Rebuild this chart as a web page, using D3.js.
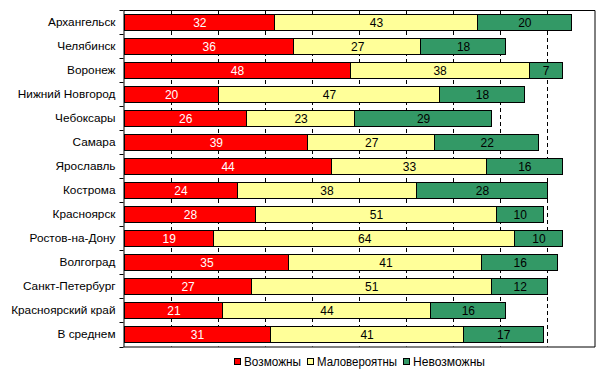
<!DOCTYPE html>
<html lang="ru">
    <head>
        <meta charset="utf-8">
        <title>Stacked bars</title>
        <script src="https://cdn.jsdelivr.net/npm/d3@7"></script>
        <style>
            body { margin: 0; background: #fff; }
            text { font-family: Arial, "Liberation Sans", sans-serif; }
        </style>
    </head>
    <body>
        <script>
            // data
            var cities = ["Архангельск", "Челябинск", "Воронеж", "Нижний Новгород", "Чебоксары",
                          "Самара", "Ярославль", "Кострома", "Красноярск", "Ростов-на-Дону",
                          "Волгоград", "Санкт-Петербург", "Красноярский край", "В среднем"];
            var possible = [32, 36, 48, 20, 26, 39, 44, 24, 28, 19, 35, 27, 21, 31];
            var unlikely = [43, 27, 38, 47, 23, 27, 33, 38, 51, 64, 41, 51, 44, 41];
            var impossible = [20, 18, 7, 18, 29, 22, 16, 28, 10, 10, 16, 12, 16, 17];
            var seriesNames = ["Возможны", "Маловероятны", "Невозможны"];
            var gridTicks = [10, 20, 30, 40, 50, 60, 70, 80, 90];

            var colors = ["#ff0000", "#ffff99", "#339966"];
            var textColors = ["#ffffff", "#000000", "#000000"];

            var w = 604, h = 376;
            // plot area edges (note: "top" is reserved on window)
            var pLeft = 123.5, pRight = 594.5, pTop = 10, pBottom = 346.5;

            var rows = cities.map(function(c, i) {
                return { city: c, possible: possible[i], unlikely: unlikely[i], impossible: impossible[i] };
            });
            var keys = ["possible", "unlikely", "impossible"];
            var stacked = d3.stack().keys(keys)(rows);

            var x = d3.scaleLinear().domain([0, 100]).range([pLeft, pRight]);
            var y = d3.scaleBand().domain(cities).range([pTop, pBottom])
                        .paddingInner(1/3).paddingOuter(1/6);

            var svg = d3.select("body").append("svg")
                        .attr("width", w)
                        .attr("height", h);

            // dashed gridlines
            svg.selectAll("line.grid")
                .data(gridTicks)
                .enter()
                .append("line")
                .attr("x1", function(d) { return Math.round(x(d)) + 0.5; })
                .attr("x2", function(d) { return Math.round(x(d)) + 0.5; })
                .attr("y1", pTop)
                .attr("y2", pBottom)
                .attr("stroke", "#000")
                .attr("stroke-dasharray", "4,3");

            // plot border (top, right, bottom)
            svg.append("path")
                .attr("d", "M" + pLeft + "," + (pTop + 0.5) + "H" + (pRight + 0.5) + "V" + (pBottom + 0.5) + "H" + pLeft)
                .attr("fill", "none")
                .attr("stroke", "#000");

            // bars
            var groups = svg.selectAll("g.series")
                .data(stacked)
                .enter()
                .append("g")
                .attr("fill", function(d, i) { return colors[i]; });

            groups.selectAll("rect")
                .data(function(d) { return d; })
                .enter()
                .append("rect")
                .attr("x", function(d) { return Math.round(x(d[0])) + 0.5; })
                .attr("width", function(d) { return Math.round(x(d[1])) - Math.round(x(d[0])); })
                .attr("y", function(d) { return Math.round(y(d.data.city)) + 0.5; })
                .attr("height", Math.round(y.bandwidth()))
                .attr("stroke", "#000")
                .attr("stroke-width", 1);

            // value labels
            stacked.forEach(function(s, i) {
                svg.selectAll("text.v" + i)
                    .data(s)
                    .enter()
                    .append("text")
                    .attr("x", function(d) { return (x(d[0]) + x(d[1])) / 2 + 1; })
                    .attr("y", function(d) { return y(d.data.city) + y.bandwidth() / 2 + 5; })
                    .attr("text-anchor", "middle")
                    .attr("font-size", "12px")
                    .attr("fill", textColors[i])
                    .text(function(d) { return d[1] - d[0]; });
            });

            // y axis
            var yAxis = d3.axisLeft(y).tickSize(0).tickPadding(8);
            var ya = svg.append("g")
                .attr("transform", "translate(" + pLeft + ",0)")
                .call(yAxis);
            ya.select(".domain").attr("stroke", "#000");
            ya.selectAll("text").attr("font-size", "11.8px").attr("fill", "#000")
                .attr("font-family", "Arial, 'Liberation Sans', sans-serif");

            // tick marks between categories
            var bounds = d3.range(cities.length + 1).map(function(i) { return pTop + i * y.step(); });
            svg.selectAll("line.yt")
                .data(bounds)
                .enter()
                .append("line")
                .attr("x1", pLeft - 4)
                .attr("x2", pLeft)
                .attr("y1", function(d) { return Math.round(d) + 0.5; })
                .attr("y2", function(d) { return Math.round(d) + 0.5; })
                .attr("stroke", "#000");

            // legend
            var legendX = [234, 307, 403];
            var legendLen = [57, 80, 72];
            var lg = svg.selectAll("g.legend")
                .data(seriesNames)
                .enter()
                .append("g")
                .attr("transform", function(d, i) { return "translate(" + legendX[i] + ",358)"; });
            lg.append("rect")
                .attr("x", 0.5).attr("y", 0.5)
                .attr("width", 6).attr("height", 6)
                .attr("fill", function(d, i) { return colors[i]; })
                .attr("stroke", "#000");
            lg.append("text")
                .attr("x", 10)
                .attr("y", 8)
                .attr("font-size", "12px")
                .attr("textLength", function(d, i) { return legendLen[i]; })
                .attr("lengthAdjust", "spacingAndGlyphs")
                .text(function(d) { return d; });
        </script>
    </body>
</html>
